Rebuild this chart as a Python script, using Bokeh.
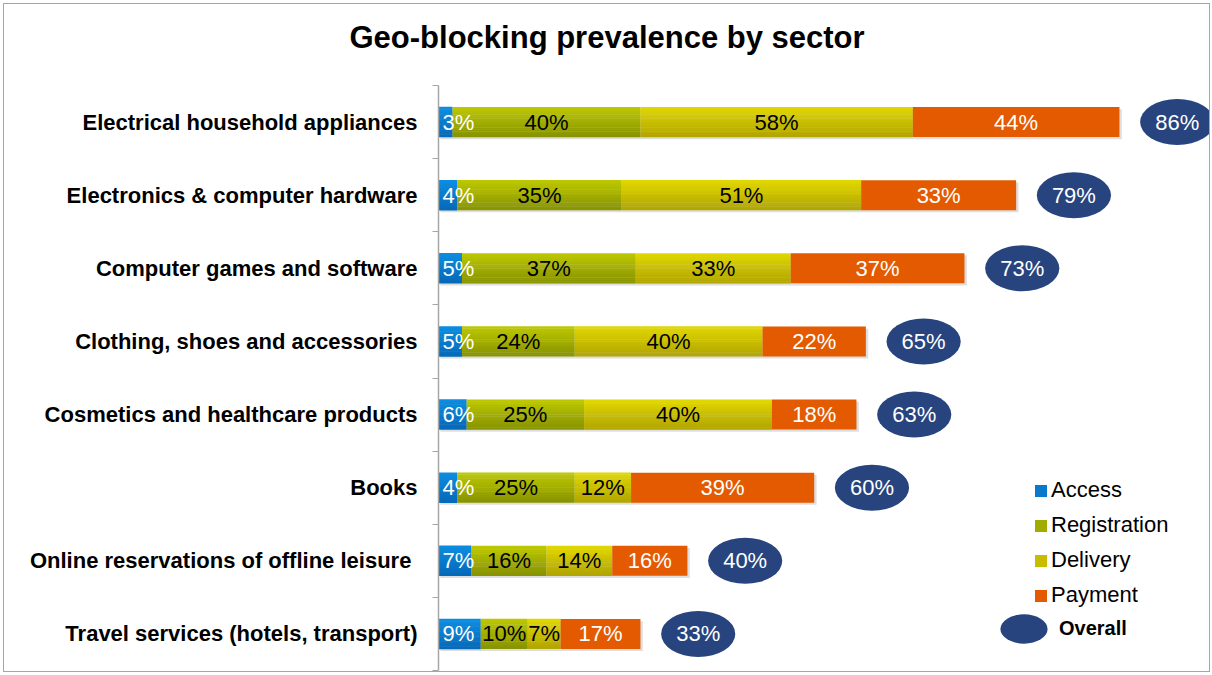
from bokeh.plotting import figure
from bokeh.models import ColumnDataSource, Range1d, FixedTicker, Legend, LegendItem, Title
from bokeh.core.properties import value
from bokeh.embed import file_html
from bokeh.resources import INLINE

# ---------------- data ----------------
sectors = [
    "Electrical household appliances",
    "Electronics & computer hardware",
    "Computer games and software",
    "Clothing, shoes and accessories",
    "Cosmetics and healthcare products",
    "Books",
    "Online reservations of offline leisure ",
    "Travel services (hotels, transport)",
]
access = [3, 4, 5, 5, 6, 4, 7, 9]
registration = [40, 35, 37, 24, 25, 25, 16, 10]
delivery = [58, 51, 33, 40, 40, 12, 14, 7]
payment = [44, 33, 37, 22, 18, 39, 16, 17]
overall = [86, 79, 73, 65, 63, 60, 40, 33]
series_names = ["Access", "Registration", "Delivery", "Payment"]

# ---------------- style ----------------
FONT = "Liberation Sans"
# (top colour, bottom colour, label colour, number of gradient strips)
series_style = [
    ((12, 142, 226), (6, 104, 184), "white", 12),
    ((190, 201, 0), (134, 146, 0), "black", 16),
    ((226, 216, 0), (176, 164, 0), "black", 16),
    ((228, 90, 0), (228, 90, 0), "white", 1),
]
ELL_COLOR = "#27447f"
BAR_H = 0.41
ELL_GAP = 12.3
ELL_W = 15.8
ELL_H = 0.63

n = len(sectors)
ys = [n - 1 - i for i in range(n)]
series_vals = [access, registration, delivery, payment]

p = figure(width=1207, height=669, output_backend="svg", toolbar_location=None,
           x_range=Range1d(0, 164.6), y_range=Range1d(-0.5, 7.5),
           min_border_left=434, min_border_right=0, min_border_top=81,
           min_border_bottom=3)
p.styles = {"border": "1px solid #a6a6a6", "margin": "3px 0px 0px 3px"}
p.outline_line_color = None
p.xgrid.visible = False
p.ygrid.visible = False
p.xaxis.visible = False

p.title.text = "Geo-blocking prevalence by sector"
p.title.text_font = FONT
p.title.text_font_size = "31px"
p.title.text_font_style = "bold"
p.title.text_color = "black"
p.title.align = "left"
p.title.offset = -89
p.title.standoff = 0

# blank spacer between title and plot area
p.add_layout(Title(text=" ", text_font_size="2px", standoff=27, text_color="white"), "above")

# y axis
yax = p.yaxis[0]
yax.ticker = FixedTicker(ticks=ys, minor_ticks=[y - 0.5 for y in range(n + 1)])
yax.major_label_overrides = {ys[i]: sectors[i] for i in range(n)}
yax.major_label_text_font = FONT
yax.major_label_text_font_size = "22px"
yax.major_label_text_font_style = "bold"
yax.major_label_text_color = "black"
yax.major_tick_line_color = None
yax.major_tick_out = 0
yax.major_tick_in = 0
yax.major_label_standoff = 15
yax.minor_tick_line_color = "#a6a6a6"
yax.minor_tick_out = 6
yax.minor_tick_in = 0
yax.axis_line_color = "#a6a6a6"
yax.axis_line_width = 1.5

# cumulative positions
lefts, rights = [], []
cum = [0] * n
for vals in series_vals:
    l = list(cum)
    r = [cum[i] + vals[i] for i in range(n)]
    lefts.append(l)
    rights.append(r)
    cum = r
totals = cum

# shadows
p.hbar(y=[y - 0.03 for y in ys], left=[0.4] * n, right=[t + 0.5 for t in totals],
       height=BAR_H, fill_color="#c8c8c8", fill_alpha=0.6, line_color=None)

legend_renderers = []
for s, vals in enumerate(series_vals):
    top, bot, lab, ns = series_style[s]
    rep = None
    hs = BAR_H / ns
    for k in range(ns):
        f = (k + 0.5) / ns
        col = tuple(int(round(top[j] + (bot[j] - top[j]) * f)) for j in range(3))
        hexc = "#%02x%02x%02x" % col
        yc = [y + BAR_H / 2 - (k + 0.5) * hs for y in ys]
        hh = hs * 1.2 if ns > 1 else hs
        r = p.hbar(y=yc, left=lefts[s], right=rights[s], height=hh,
                   fill_color=hexc, line_color=None)
        if k == ns // 2:
            rep = r
    legend_renderers.append(rep)

# segment labels
for s, vals in enumerate(series_vals):
    lab_col = series_style[s][2]
    texts = ["%d%%" % v for v in vals]
    if s == 0:
        src = ColumnDataSource(dict(x=lefts[s], y=ys, t=texts))
        p.text(x="x", y="y", text="t", source=src, text_align="left", x_offset=4,
               text_baseline="middle", text_color=lab_col, text_font=value(FONT),
               text_font_size="22px")
    else:
        xs = [(lefts[s][i] + rights[s][i]) / 2 for i in range(n)]
        src = ColumnDataSource(dict(x=xs, y=ys, t=texts))
        p.text(x="x", y="y", text="t", source=src, text_align="center",
               text_baseline="middle", text_color=lab_col, text_font=value(FONT),
               text_font_size="22px")

# overall ellipses
ox = [totals[i] + ELL_GAP for i in range(n)]
esrc = ColumnDataSource(dict(x=ox, y=ys, t=["%d%%" % v for v in overall]))
ell = p.ellipse(x="x", y="y", width=ELL_W, height=ELL_H, source=esrc,
                fill_color=ELL_COLOR, line_color=None)
p.text(x="x", y="y", text="t", source=esrc, text_align="center", text_baseline="middle",
       text_color="white", text_font=value(FONT), text_font_size="22px")

# legends
leg1 = Legend(items=[LegendItem(label=series_names[i], renderers=[legend_renderers[i]])
                     for i in range(4)],
              location=(595, 62), glyph_width=15, glyph_height=15, label_height=20,
              spacing=9, padding=0, margin=0, label_standoff=3,
              label_text_font=FONT, label_text_font_size="22px", label_text_color="black",
              border_line_color=None, background_fill_alpha=0)
leg2 = Legend(items=[LegendItem(label="Overall", renderers=[ell])],
              location=(556, 12), glyph_width=59, glyph_height=59, padding=0, margin=0,
              label_standoff=6, label_text_font=FONT, label_text_font_size="20px",
              label_text_font_style="bold", label_text_color="black",
              border_line_color=None, background_fill_alpha=0)
p.add_layout(leg1)
p.add_layout(leg2)

open("out.html", "w").write(file_html(p, INLINE))
